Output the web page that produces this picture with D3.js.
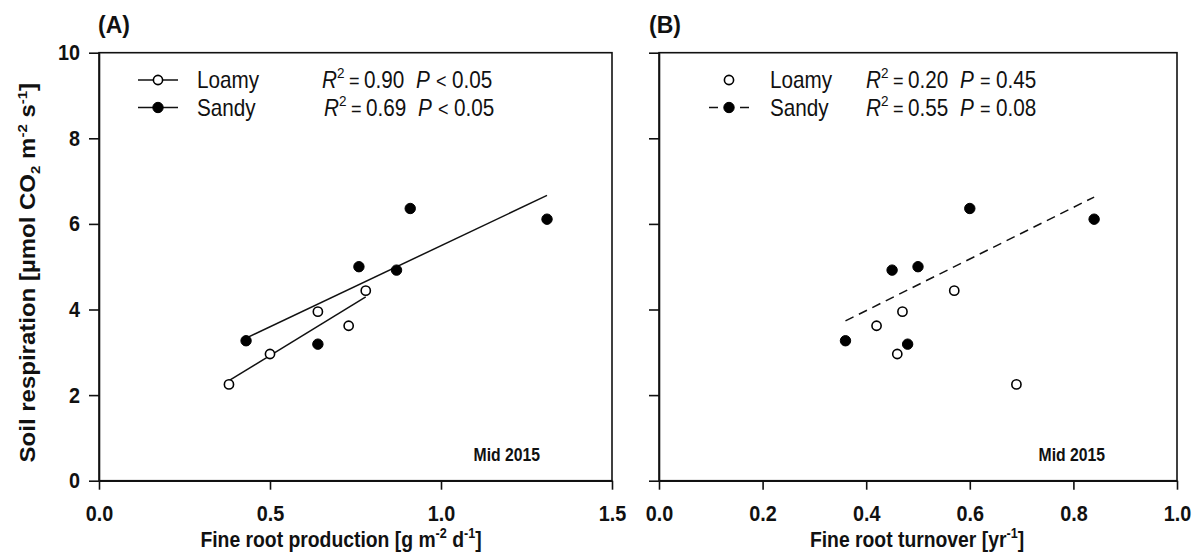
<!DOCTYPE html>
<html>
<head>
<meta charset="utf-8">
<script src="https://cdn.jsdelivr.net/npm/d3@7"></script>
<style>
  body { margin: 0; background: #fff; }
  text { font-family: "Liberation Sans", Arial, sans-serif; }
</style>
</head>
<body>
<div id="chart-area"></div>
<script>
// soil respiration, same plots in both panels
const loamyResp = [2.25, 2.96, 3.95, 3.62, 4.44]
const sandyResp = [3.27, 3.19, 5.00, 4.92, 6.36, 6.11]

// panel A: fine root production [g m-2 d-1]
const loamyProd = [0.38, 0.50, 0.64, 0.73, 0.78]
const sandyProd = [0.43, 0.64, 0.76, 0.87, 0.91, 1.31]

// panel B: fine root turnover [yr-1]
const loamyTurn = [0.69, 0.46, 0.47, 0.42, 0.57]
const sandyTurn = [0.36, 0.48, 0.50, 0.45, 0.60, 0.84]

const yTicks = [0, 2, 4, 6, 8, 10]
const xTicksA = [0, 0.5, 1.0, 1.5]
const xTicksB = [0, 0.2, 0.4, 0.6, 0.8, 1.0]

const statsA = [["0.90", "<", "0.05"], ["0.69", "<", "0.05"]]
const statsB = [["0.20", "=", "0.45"], ["0.55", "=", "0.08"]]

const W = 1197, H = 552
const TOP = 52.7, BOTTOM = 480.7
const SQ = 0.9   // the original type is a bit narrow

const svg = d3.select("#chart-area").append("svg")
  .attr("width", W)
  .attr("height", H)

const y = d3.scaleLinear().domain([0, 10]).range([BOTTOM, TOP])

// place a text at x,y squeezed horizontally
function sq (sel, x, yy) {
  return sel.attr("transform", `translate(${x}, ${yy}) scale(${SQ}, 1)`)
}

function fit (xs, ys) {
  const mx = d3.mean(xs), my = d3.mean(ys)
  const sxy = d3.sum(xs, (v, i) => (v - mx) * (ys[i] - my))
  const sxx = d3.sum(xs, v => (v - mx) * (v - mx))
  const b = sxy / sxx
  const a = my - b * mx
  const x0 = d3.min(xs), x1 = d3.max(xs)
  return [[x0, a + b * x0], [x1, a + b * x1]]
}

function panel (opt) {
  const x = d3.scaleLinear().domain(opt.domain).range([opt.left, opt.right])
  const g = svg.append("g")

  // frame
  g.append("rect")
    .attr("x", opt.left).attr("y", TOP)
    .attr("width", opt.right - opt.left).attr("height", BOTTOM - TOP)
    .attr("fill", "none").attr("stroke", "#111").attr("stroke-width", 1.6)

  const xAxis = g.append("g")
    .attr("transform", `translate(0, ${BOTTOM})`)
    .call(d3.axisBottom(x).tickValues(opt.xTicks).tickSize(9).tickSizeOuter(0)
      .tickPadding(16).tickFormat(d3.format(".1f")))
  const yAxis = g.append("g")
    .attr("transform", `translate(${opt.left}, 0)`)
    .call(d3.axisLeft(y).tickValues(yTicks).tickSize(10).tickSizeOuter(0)
      .tickPadding(11).tickFormat(opt.yLabels ? d3.format("d") : ""))

  ;[xAxis, yAxis].forEach(a => {
    a.select(".domain").attr("stroke", "#111").attr("stroke-width", 1.6)
    a.selectAll(".tick line").attr("stroke", "#111").attr("stroke-width", 1.6)
    a.selectAll(".tick text")
      .attr("font-family", "Liberation Sans, Arial, sans-serif")
      .attr("font-size", "22px").attr("font-weight", "bold").attr("fill", "#111")
      .attr("transform", `scale(${SQ}, 1)`)
  })

  // regression lines
  opt.fits.forEach(f => {
    g.append("path")
      .attr("d", d3.line().x(d => x(d[0])).y(d => y(d[1]))(f.pts))
      .attr("fill", "none").attr("stroke", "#111").attr("stroke-width", 1.5)
      .attr("stroke-dasharray", f.dash || null)
  })

  // points
  const draw = (xs, ys, filled) => {
    g.selectAll(null).data(xs.map((v, i) => [v, ys[i]])).enter().append("circle")
      .attr("cx", d => x(d[0])).attr("cy", d => y(d[1]))
      .attr("r", filled ? 5.2 : 4.6)
      .attr("fill", filled ? "#000" : "#fff")
      .attr("stroke", "#000").attr("stroke-width", filled ? 1 : 1.6)
  }
  draw(opt.loamy[0], opt.loamy[1], false)
  draw(opt.sandy[0], opt.sandy[1], true)

  // panel tag
  svg.append("text")
    .attr("x", opt.tagX).attr("y", 33)
    .attr("font-family", "Lato, sans-serif").attr("font-weight", "bold")
    .attr("font-size", "23px").attr("fill", "#111")
    .text(opt.tag)

  // Mid 2015
  sq(g.append("text"), opt.right - 72, 461)
    .attr("text-anchor", "end")
    .attr("font-size", "17.5px").attr("font-weight", "bold").attr("fill", "#111")
    .text("Mid 2015")

  // x title
  const xt = sq(g.append("text"), opt.titleX, 547)
    .attr("text-anchor", "middle")
    .attr("font-size", "21.5px").attr("font-weight", "bold").attr("fill", "#111")
  opt.title.forEach(p => {
    xt.append("tspan").attr("font-size", p.sup ? "14px" : null)
      .attr("dy", p.sup ? -9 : (p.back ? 9 : null))
      .text(p.t)
  })

  // legend
  const L = opt.legend
  const rows = [
    { name: "Loamy", filled: false, line: L.lineLoamy, stat: opt.stats[0] },
    { name: "Sandy", filled: true, line: true, stat: opt.stats[1] }
  ]
  rows.forEach((r, i) => {
    const cy = 80 + i * 27.5
    if (r.line) {
      g.append("line")
        .attr("x1", L.sym - 20).attr("x2", L.sym + 20)
        .attr("y1", cy).attr("y2", cy)
        .attr("stroke", "#111").attr("stroke-width", 1.5)
        .attr("stroke-dasharray", L.dash || null)
    }
    g.append("circle")
      .attr("cx", L.sym).attr("cy", cy)
      .attr("r", r.filled ? 5.2 : 4.6)
      .attr("fill", r.filled ? "#000" : "#fff")
      .attr("stroke", "#000").attr("stroke-width", r.filled ? 1 : 1.6)
    sq(g.append("text"), L.name, cy + 8)
      .attr("font-size", "23px").attr("fill", "#111")
      .text(r.name)
    const st = sq(g.append("text"), L.stat + (i === 1 ? L.shift2 : 0), cy + 8)
      .attr("font-size", "23px").attr("fill", "#111")
    st.append("tspan").attr("font-style", "italic").text("R")
    st.append("tspan").attr("font-size", "15px").attr("dy", -10).text("2")
    st.append("tspan").attr("dy", 10).attr("dx", 5).attr("font-size", "20px").text("=")
    st.append("tspan").attr("dx", 5).text(r.stat[0])
    st.append("tspan").attr("dx", 13).attr("font-style", "italic").text("P")
    st.append("tspan").attr("dx", 7).attr("font-size", "20px").text(r.stat[1])
    st.append("tspan").attr("dx", 6).text(r.stat[2])
  })
}

panel({
  tag: "(A)", tagX: 98,
  domain: [0, 1.5], left: 99, right: 612,
  xTicks: xTicksA, yLabels: true,
  loamy: [loamyProd, loamyResp], sandy: [sandyProd, sandyResp],
  fits: [{ pts: fit(loamyProd, loamyResp) }, { pts: fit(sandyProd, sandyResp) }],
  stats: statsA,
  legend: { sym: 158, name: 197, stat: 322, shift2: 2, lineLoamy: true },
  titleX: 341,
  title: [{ t: "Fine root production [g m" }, { t: "-2", sup: true }, { t: " d", back: true },
    { t: "-1", sup: true }, { t: "]", back: true }]
})

panel({
  tag: "(B)", tagX: 649,
  domain: [0, 1.0], left: 659, right: 1177,
  xTicks: xTicksB, yLabels: false,
  loamy: [loamyTurn, loamyResp], sandy: [sandyTurn, sandyResp],
  fits: [{ pts: fit(sandyTurn, sandyResp), dash: "9,6" }],
  stats: statsB,
  legend: { sym: 729, name: 770, stat: 866, shift2: 0, lineLoamy: false, dash: "9,22,9" },
  titleX: 917,
  title: [{ t: "Fine root turnover [yr" }, { t: "-1", sup: true }, { t: "]", back: true }]
})

// y title
const yt = svg.append("text")
  .attr("transform", `translate(35, ${(TOP + BOTTOM) / 2 + 6}) rotate(-90) scale(1, ${SQ})`)
  .attr("text-anchor", "middle")
  .attr("font-size", "24px").attr("font-weight", "bold").attr("fill", "#111")
yt.append("tspan").text("Soil respiration [µmol CO")
yt.append("tspan").attr("font-size", "15px").attr("dy", 5).text("2")
yt.append("tspan").attr("dy", -5).text(" m")
yt.append("tspan").attr("font-size", "15px").attr("dy", -9).text("-2")
yt.append("tspan").attr("dy", 9).text(" s")
yt.append("tspan").attr("font-size", "15px").attr("dy", -9).text("-1")
yt.append("tspan").attr("dy", 9).text("]")
</script>
</body>
</html>
